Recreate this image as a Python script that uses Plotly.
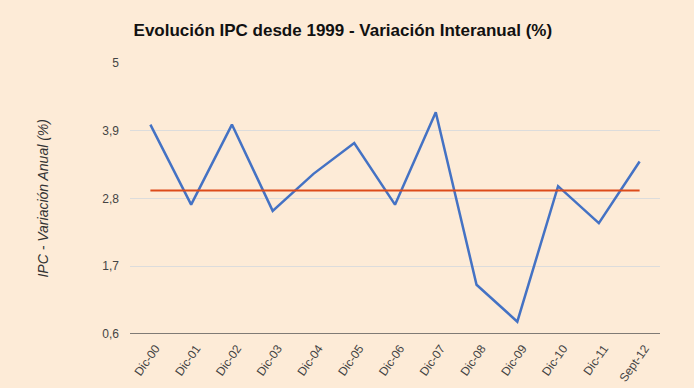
import plotly.graph_objects as go

categories = ["Dic-00", "Dic-01", "Dic-02", "Dic-03", "Dic-04", "Dic-05", "Dic-06",
              "Dic-07", "Dic-08", "Dic-09", "Dic-10", "Dic-11", "Sept-12"]
ipc_values = [4.0, 2.7, 4.0, 2.6, 3.2, 3.7, 2.7, 4.2, 1.4, 0.8, 3.0, 2.4, 3.4]
average_values = [2.93] * len(categories)
tick_values = [0.6, 1.7, 2.8, 3.9, 5.0]
tick_labels = ["0,6", "1,7", "2,8", "3,9", "5"]

bg = "#FDEBD7"
fig = go.Figure()
fig.add_trace(go.Scatter(x=categories, y=ipc_values, mode="lines",
                         line=dict(color="#4472C4", width=2.5), showlegend=False))
fig.add_trace(go.Scatter(x=categories, y=average_values, mode="lines",
                         line=dict(color="#DD4B1A", width=2.2), showlegend=False))

fig.update_layout(
    width=694, height=388,
    paper_bgcolor=bg, plot_bgcolor=bg,
    margin=dict(l=130, r=34, t=63, b=54, autoexpand=False),
    font=dict(family="Liberation Sans, Arial, sans-serif", size=12, color="#444444"),
    title=dict(text="<b>Evolución IPC desde 1999 - Variación Interanual (%)</b>",
               x=0.494, xanchor="center", y=0.922, yanchor="middle",
               font=dict(size=17, color="#111111")),
    xaxis=dict(type="category", tickangle=-55, showgrid=False, showline=False,
               ticks="", automargin=False, range=[-0.5, len(categories) - 0.5],
               ticklabelstandoff=4, ticklabelshift=5,
               tickfont=dict(size=12, color="#444444")),
    yaxis=dict(range=[0.6, 5.0], tickvals=tick_values, ticktext=tick_labels,
               showgrid=True, gridcolor="#DCDCDC", gridwidth=1, zeroline=False,
               showline=False, ticks="", ticklabelstandoff=10, automargin=False,
               tickfont=dict(size=12, color="#444444")),
    annotations=[dict(text="<i>IPC - Variación Anual (%)</i>", textangle=-90,
                      xref="paper", yref="paper", x=-0.166, y=0.5,
                      xanchor="center", yanchor="middle", showarrow=False,
                      font=dict(size=14, color="#333333"))],
    shapes=[dict(type="line", xref="paper", yref="y", x0=0, x1=1, y0=0.6, y1=0.6,
                 line=dict(color="#555555", width=1.5))],
)

fig.write_html("out.html", config={"displayModeBar": False},
               post_script="document.body.style.margin='0';"
                           "document.body.style.background='#FDEBD7';")
